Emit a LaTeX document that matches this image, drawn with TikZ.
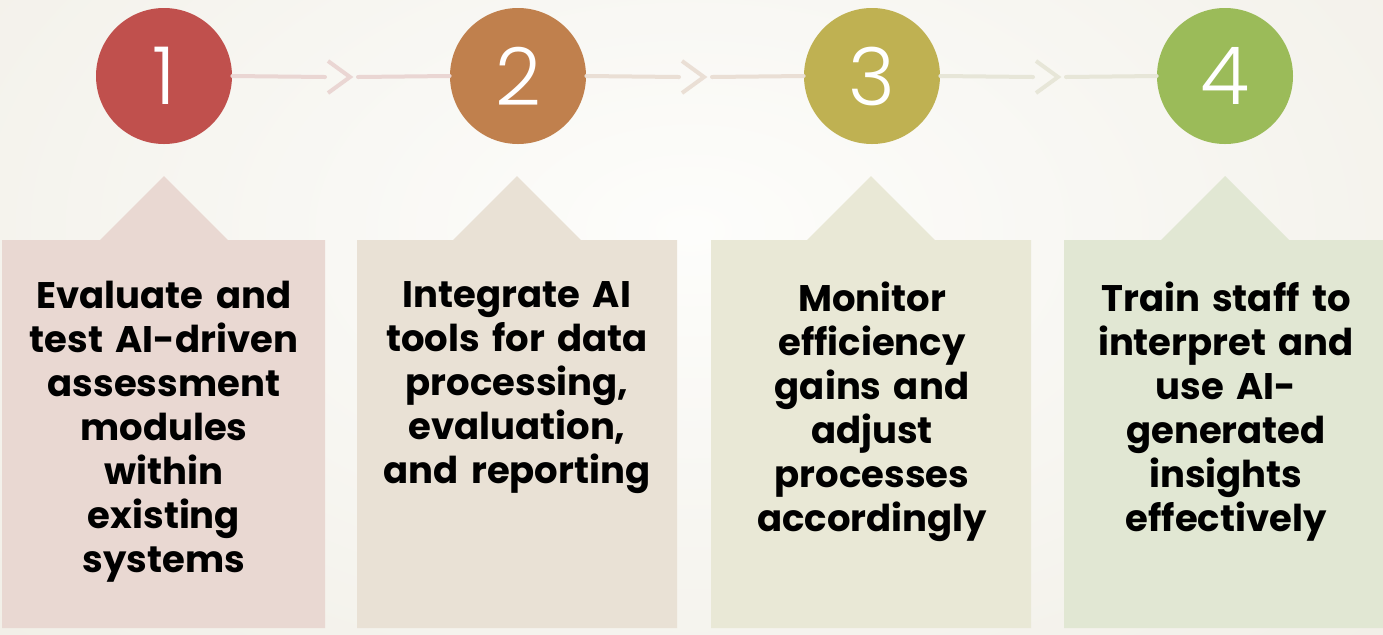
\documentclass[tikz,border=0pt]{standalone}
\usepackage{fontspec}
\setmainfont{Poppins}
\newfontfamily\numfont{Poppins Light}
\usetikzlibrary{positioning}

\definecolor{bgedge}{HTML}{EEEBE2}
\definecolor{bgcentre}{HTML}{FDFDFB}
\definecolor{stepa}{HTML}{C0504D}
\definecolor{stepb}{HTML}{C0804D}
\definecolor{stepc}{HTML}{BFB152}
\definecolor{stepd}{HTML}{9BBB59}
\definecolor{boxa}{HTML}{E9D8D2}
\definecolor{boxb}{HTML}{E9E1D5}
\definecolor{boxc}{HTML}{E9E8D6}
\definecolor{boxd}{HTML}{E1E7D3}
\definecolor{linka}{HTML}{EAD6D3}
\definecolor{linkb}{HTML}{EADFD5}
\definecolor{linkc}{HTML}{E7E6D8}

\begin{document}
\begin{tikzpicture}[x=0.5pt,y=-0.5pt,
		stepdot/.style = {circle, minimum size=68pt, inner sep=0pt,
			text=white, font=\numfont\fontsize{40}{40}\selectfont},
		boxtext/.style = {anchor=north, inner sep=0pt, text width=155pt,
			align=center, font=\bfseries\fontsize{18.5}{22}\selectfont},
		link/.style = {line width=2pt, line cap=round},
		chevron/.style = {line width=2pt}]
	% background
	\useasboundingbox (0,0) rectangle (1383,634);
	\fill[bgedge] (0,0) rectangle (1383,634);
	\begin{scope}
		\clip (0,0) rectangle (1383,634);
		\shade[inner color=bgcentre, outer color=bgedge] (690,230) ellipse (1250 and 760);
	\end{scope}

	% boxes with their tabs
	\fill[boxa] (2,240) -- (100,240) -- (164,176) -- (228,240) -- (325,240) -- (325,628) -- (2,628) -- cycle;
	\fill[boxb] (357,240) -- (453,240) -- (517,176) -- (581,240) -- (677,240) -- (677,628) -- (357,628) -- cycle;
	\fill[boxc] (711,240) -- (807,240) -- (871,176) -- (935,240) -- (1031,240) -- (1031,628) -- (711,628) -- cycle;
	\fill[boxd] (1064,240) -- (1161,240) -- (1225,176) -- (1289,240) -- (1390,240) -- (1390,628) -- (1064,628) -- cycle;

	% numbered steps
	\node[stepdot, fill=stepa] (c1) at (164,76) {1};
	\node[stepdot, fill=stepb] (c2) at (518,76) {2};
	\node[stepdot, fill=stepc] (c3) at (872,76) {3};
	\node[stepdot, fill=stepd] (c4) at (1225,76) {4};

	% connectors
	\coordinate (g1) at (325,77);  \coordinate (k1) at (350,77);  \coordinate (h1) at (358,77);
	\coordinate (g2) at (679,77);  \coordinate (k2) at (704,77);  \coordinate (h2) at (712,77);
	\coordinate (g3) at (1033,77); \coordinate (k3) at (1058,77); \coordinate (h3) at (1066,77);
	\draw[link, linka] (c1.east) -- (g1);
	\draw[chevron, linka] ([shift={(-22,-16)}]k1) -- (k1) -- ([shift={(-22,16)}]k1);
	\draw[link, linka] (h1) -- (c2.west);
	\draw[link, linkb] (c2.east) -- (g2);
	\draw[chevron, linkb] ([shift={(-22,-16)}]k2) -- (k2) -- ([shift={(-22,16)}]k2);
	\draw[link, linkb] (h2) -- (c3.west);
	\draw[link, linkc] (c3.east) -- (g3);
	\draw[chevron, linkc] ([shift={(-22,-16)}]k3) -- (k3) -- ([shift={(-22,16)}]k3);
	\draw[link, linkc] (h3) -- (c4.west);

	% step descriptions
	\node[boxtext] (t1) at (164,281) {Evaluate and\\ test AI-driven\\ assessment\\ modules\\ within\\ existing\\ systems};
	\node[boxtext] (t2) at (517,281) {Integrate AI\\ tools for data\\ processing,\\ evaluation,\\ and reporting};
	\node[boxtext] (t3) at (872,281) {Monitor\\ efficiency\\ gains and\\ adjust\\ processes\\ accordingly};
	\node[boxtext] (t4) at (1226,281) {Train staff to\\ interpret and\\ use AI-\\ generated\\ insights\\ effectively};
\end{tikzpicture}
\end{document}
